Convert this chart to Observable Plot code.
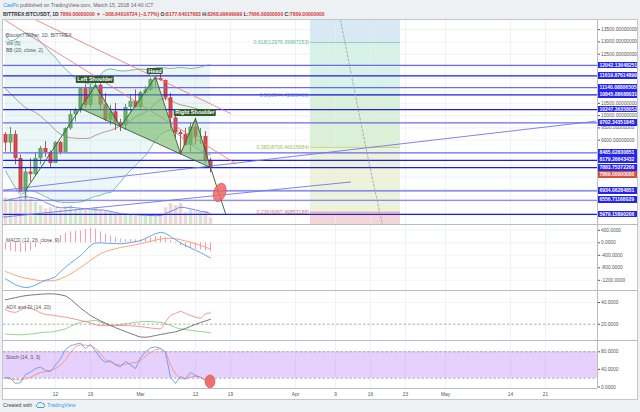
<!DOCTYPE html>
<html><head><meta charset="utf-8">
<script src="https://cdn.jsdelivr.net/npm/d3@7"></script>
<script src="https://cdn.jsdelivr.net/npm/@observablehq/plot@0.6"></script>
<style>
html,body{margin:0;padding:0}
body{width:640px;height:412px;position:relative;overflow:hidden;background:#eef1f4;font-family:"Liberation Sans",Arial,sans-serif}
.a{position:absolute;white-space:nowrap}
.plotsvg{position:absolute;left:0}
.lg{font-size:5px;color:#555;line-height:6px}
</style></head><body>
<script>
// ---------------- DATA ----------------
const dates = ["2018-02-02","2018-02-03","2018-02-04","2018-02-05","2018-02-06","2018-02-07","2018-02-08","2018-02-09","2018-02-10","2018-02-11","2018-02-12","2018-02-13","2018-02-14","2018-02-15","2018-02-16","2018-02-17","2018-02-18","2018-02-19","2018-02-20","2018-02-21","2018-02-22","2018-02-23","2018-02-24","2018-02-25","2018-02-26","2018-02-27","2018-02-28","2018-03-01","2018-03-02","2018-03-03","2018-03-04","2018-03-05","2018-03-06","2018-03-07","2018-03-08","2018-03-09","2018-03-10","2018-03-11","2018-03-12","2018-03-13","2018-03-14","2018-03-15"];
const open  = [9230,8890,9230,8250,6900,7700,7600,8250,8660,8500,8050,8900,8500,9470,10040,10200,11090,10420,11150,11230,10440,9830,10150,9700,9600,10330,10580,10330,10930,11030,11460,11500,11430,10720,9900,9300,9230,8790,9530,9130,9150,8178];
const high  = [9310,9520,9380,8400,7850,8250,8500,8750,8950,8560,8950,8950,9500,10200,10300,11100,11250,11250,11600,11300,10900,10420,10500,9850,10450,10850,11050,11000,11180,11520,11530,11700,11450,10900,10100,9400,9480,9700,9900,9480,9350,8269];
const low   = [8520,8500,8000,6850,6600,7300,7560,8000,8300,7850,8050,8400,8500,9400,9750,10100,10300,10300,11100,10250,9750,9600,9400,9350,9400,10150,10300,10250,10800,11000,11100,11400,10600,9450,9100,8400,8750,8500,8800,8830,8050,7666];
const close = [8890,9230,8250,6900,7700,7600,8250,8660,8500,8050,8900,8500,9470,10040,10200,11090,10420,11150,11230,10440,9830,10150,9700,9600,10330,10580,10330,10930,11030,11460,11500,11430,10720,9900,9300,9230,8790,9530,9130,9150,8178,7869];
const volume   = [51,49,46,55,61,49,42,36,30,32,34,28,34,36,28,28,27,28,32,27,25,23,21,17,21,19,17,19,17,17,15,19,32,40,36,40,23,27,28,23,25,13];
const volumeMA = [45,48,50,52,53,52,50,47,42,38,34,32,32,33,32,31,30,29,28,28,27,25,23,21,20,19,19,18,18,17,17,17,21,25,29,33,32,30,28,25,24,21];
const volumeAxisMax = 390;
const bbUpper = [13300,13050,13100,13300,13350,13350,13250,13000,12800,12550,12370,12100,11900,11700,11520,11420,11320,11280,11420,11650,11850,11900,11860,11820,11820,11850,11870,11900,11880,11900,11940,11960,11940,11920,11940,11960,11940,11920,11940,11980,12040,12060];
const bbBasis = [11100,10900,10700,10500,10330,10230,10130,9980,9800,9620,9400,9250,9150,9100,9080,9070,9070,9100,9200,9280,9350,9400,9480,9580,9680,9800,9950,10050,10130,10300,10500,10650,10700,10620,10520,10440,10400,10350,10300,10230,10160,10100];
const bbLower = [7750,7400,7050,6800,6900,6950,6900,6800,6700,6600,6520,6480,6460,6460,6470,6480,6550,6640,6720,6760,6850,6870,7070,7300,7560,7770,7970,8180,8380,8680,8990,9230,9350,9400,9300,9160,9000,8850,8700,8580,8460,8400];
const macdLine   = [-1150,-1250,-1340,-1400,-1430,-1410,-1350,-1270,-1200,-1150,-1080,-920,-780,-650,-530,-410,-250,-90,-10,0,-10,-20,-25,-30,-20,10,40,70,140,220,290,330,300,200,100,0,-90,-160,-240,-310,-400,-480];
const macdSignal = [-920,-980,-1040,-1090,-1130,-1160,-1190,-1210,-1215,-1215,-1200,-1150,-1080,-1000,-900,-790,-680,-560,-450,-350,-280,-230,-190,-150,-120,-90,-60,-30,10,50,90,120,140,140,130,100,60,20,-30,-80,-140,-200];
const macdHist   = [-230,-270,-300,-310,-300,-250,-160,-60,15,65,120,230,300,350,370,380,430,470,440,350,270,210,165,120,100,100,100,100,130,170,200,210,160,60,-30,-100,-150,-180,-210,-230,-260,-280];
const adxLine = [42.5,43.5,44.5,45.5,46.3,46.8,47.2,47.6,47.9,48,47.8,47,46,43,39,35,31.5,28,25.5,23,21,18.8,16.8,15,13.2,11.5,9.8,8.2,8,8.6,9.6,10.5,11.3,12.2,13,14.5,16,18,19.8,21.5,23,24.5];
const diMinus = [33.5,31.5,31,33,35.7,34.5,33,30.5,29,28.5,28,27,26.5,25.5,24.5,23.4,22.5,21,19.5,18.8,18.5,18.8,19,18.8,18.8,18.5,18.2,17.8,17.2,16.5,16,15.7,22,28,30,31.7,30,28,26.5,25.5,29.5,30.5];
const diPlus  = [11,10.6,10.4,10.2,10.5,11,11.5,12.2,12.6,12.8,13.5,14.5,15.7,18,20,21.8,22.5,23,23.4,22,20,18.8,19,19.8,20.4,21,21.8,22.3,22.5,22.5,22,21.8,20.5,19,17,15.7,15,14.3,13.8,13.3,12.8,12];
const stochK = [22,20,8,10,28,34,42,45,38,35,50,64,85,94,97,100,87,97,82,65,56,60,50,46,58,50,42,66,80,89,91,88,78,22,8,24,18,33,26,22,14,7];
const stochD = [20,18,17,16,19,22,28,33,35,38,42,50,62,78,92,96,95,94,88,75,62,56,52,50,52,54,56,60,70,78,85,87,80,50,30,18,19,22,25,22,18,15];

const priceTicks = [6000,6500,7000,7500,8000,8500,9000,9500,10000,10500,11000,11500,12000,12500,13000,13500];
const priceAxisTicks = [9000,9500,10000,10500,12500,13000,13500];
const macdTicks = [400,0,-400,-800,-1200];
const adxTicks = [40,20];
const stochTicks = [80,40,0];
const timeTicks = ["2018-02-12","2018-02-19","2018-03-01","2018-03-12","2018-03-19","2018-04-01","2018-04-09","2018-04-16","2018-04-23","2018-05-01","2018-05-14","2018-05-21"];
const timeTickLabels = ["12","19","Mar","12","19","Apr","9","16","23","May","14","21"];

const hLevels = [12042.13648251,11619.87614899,11140.08806505,10845.88688031,10247.36358052,9702.34351845,8485.02830851,8179.26643432,7883.75372206,6934.06284851,6556.71168029,5979.15890206];
const hLabels = ["12042.13648251","11619.87614899","11140.08806505","10845.88688031","10247.36358052","9702.34351845","8485.02830851","8179.26643432","7883.75372206","6934.06284851","6556.71168029","5979.15890206"];
const hDark   = [false,true,false,true,true,false,false,true,true,false,false,true];
const lastPrice = 7869, lastPriceLabel = "7869.00000000";

const fibLevelText = ["0.618","0.5","0.382","0.236"];
const fibPrices = [12979.39997253,10844.43306469,8709.46615684,6067.49853188];
const fibPriceText = ["12979.39997253","10844.43306469","8709.46615684","6067.49853188"];
const fibTextColors = ["#5cbf98","#7a9cc8","#9cc25a","#e07272"];
const fibLineColors = ["#86c9b2","#9bb6dc","#b9d37e","#ea9494"];
const fibZoneColors = ["#d7e9f4","#d6f2e9","#dbf1d7","#ecf3d9","#f4d6d8"];
const fibStart = "2018-04-04", fibEnd = "2018-04-22";

const redTrendA = [["2018-02-08",13900],["2018-03-19",10087]];
const redTrendB = [["2018-02-02",13872],["2018-03-20",8052]];
const blueTrend1 = [["2018-02-01",6953],["2018-05-31",9773]];
const blueTrend2 = [["2018-02-01",5858],["2018-04-12",7299]];
const dashedCycle = [["2018-04-10T00:00Z",13900],["2018-04-12T15:50Z",11157],["2018-04-15T08:10Z",8446],["2018-04-18T08:10Z",5598]];

const hsPoints = [["2018-02-06",6953],["2018-02-20",11226],["2018-02-25",9550],["2018-03-04",11572],["2018-03-09",8445],["2018-03-12",9883],["2018-03-15",7889],["2018-03-18",6017]];
const hsNeck = [["2018-02-17",10290],["2018-03-15",7889]];
const hsLabels = [["Left Shoulder",1],["Head",3],["Right Shoulder",5]];
const alertMain = ["2018-03-16T22:30Z",6851];
const alertStoch = ["2018-03-15",11.5];

// ---------------- BUILD ----------------
const parse = s => new Date(s.includes("T") ? s : s + "T00:00:00Z");
const bars = dates.map((s,i)=>({date:parse(s),o:open[i],h:high[i],l:low[i],c:close[i],up:close[i]>=open[i],
  v:volume[i],vma:volumeMA[i],bbU:bbUpper[i],bbM:bbBasis[i],bbL:bbLower[i],
  macd:macdLine[i],sig:macdSignal[i],hist:macdHist[i],adx:adxLine[i],dip:diPlus[i],dim:diMinus[i],k:stochK[i],d:stochD[i]}));
const tickDates = timeTicks.map(parse);
const tickLabelMap = new Map(timeTicks.map((s,i)=>[+parse(s), timeTickLabels[i]]));
const xDomain = [parse("2018-02-01T14:24:00Z"), parse("2018-05-31T09:36:00Z")];
const mainDomain = [5569, 13872];
const FONT = "'Liberation Sans', Arial, sans-serif";
const W = 640, ML = 3, MR = 43;
const baseStyle = {background:"transparent", fontFamily:FONT, fontSize:"4.8px", color:"#555", overflow:"visible"};
const xOpt = {type:"utc", domain:xDomain, axis:null};
const pts = arr => arr.map(([s,p])=>({date:parse(s), price:p}));
const gridX = () => Plot.ruleX(tickDates, {stroke:"#eaedf0", strokeWidth:0.7});

function place(svg, top){ svg.classList.add("plotsvg"); svg.style.top = top + "px"; document.body.appendChild(svg); return svg; }
function div(css, html){ const e=document.createElement("div"); e.className="a"; e.style.cssText=css; if(html!==undefined) e.innerHTML=html; document.body.appendChild(e); return e; }

// frame
div("left:2px;top:19px;width:636px;height:381px;background:#fff;border:1px solid #c3c7cb;box-sizing:border-box");

// volume layer
place(Plot.plot({width:W,height:204,marginTop:0,marginBottom:0,marginLeft:ML,marginRight:MR,style:baseStyle,
  x:xOpt, y:{domain:[0,volumeAxisMax],axis:null}, color:{type:"identity"},
  marks:[
    Plot.ruleX(bars,{x:"date",y1:0,y2:"v",stroke:d=>d.up?"#d3e6ce":"#ead9d7",strokeWidth:3.6}),
    Plot.line(bars,{x:"date",y:"vma",stroke:"#5668ea",strokeWidth:0.8,curve:"monotone-x"})
  ]}), 20);

// main price panel
const fibX1 = parse(fibStart), fibX2 = parse(fibEnd);
const fibZones = fibZoneColors.map((c,i)=>({y1: i===0?mainDomain[1]:fibPrices[i-1], y2: i<fibPrices.length?fibPrices[i]:mainDomain[0], fill:c}));
const fibRows = fibPrices.map((p,i)=>({price:p,label:`${fibLevelText[i]}(${fibPriceText[i]})`,color:fibTextColors[i],line:fibLineColors[i]}));
const hLines = hLevels.map((v,i)=>({value:v,label:hLabels[i],dark:hDark[i]}));
const neckT = hsNeck.map(([s,p])=>[+parse(s),p]);
const neckAt = t => neckT[0][1] + (t-neckT[0][0])/(neckT[1][0]-neckT[0][0])*(neckT[1][1]-neckT[0][1]);
const tri = (a,b,c,id) => [
  {id,date:parse(a[0]),y1:a[1],y2:a[1]},
  {id,date:parse(b[0]),y1:neckAt(+parse(b[0])),y2:b[1]},
  {id,date:parse(c[0]),y1:c[1],y2:c[1]}];
const hsFill = [...tri(hsNeck[0],hsPoints[1],hsPoints[2],"L"),...tri(hsPoints[2],hsPoints[3],hsPoints[4],"H"),...tri(hsPoints[4],hsPoints[5],hsNeck[1],"R")];
const upEdge="#3f7d43", upFill="#6db56d", dnEdge="#a52f2f", dnFill="#e6484b";

const main = place(Plot.plot({width:W,height:204,marginTop:0,marginBottom:0,marginLeft:ML,marginRight:MR,style:baseStyle,
  x:xOpt,
  y:{domain:mainDomain,axis:"right",ticks:priceAxisTicks,tickFormat:d=>d.toFixed(8),tickSize:2,tickPadding:1.5,label:null},
  color:{type:"identity"},
  marks:[
    Plot.rect(fibZones,{x1:()=>fibX1,x2:()=>fibX2,y1:"y1",y2:"y2",fill:"fill"}),
    Plot.ruleY(priceTicks,{stroke:"#eaedf0",strokeWidth:0.7}),
    gridX(),
    Plot.areaY(bars,{x:"date",y1:"bbL",y2:"bbU",fill:"#a3d7da",fillOpacity:0.22,curve:"monotone-x"}),
    Plot.line(bars,{x:"date",y:"bbU",stroke:"#55aaa3",strokeWidth:0.8,curve:"monotone-x"}),
    Plot.line(bars,{x:"date",y:"bbL",stroke:"#55aaa3",strokeWidth:0.8,curve:"monotone-x"}),
    Plot.line(bars,{x:"date",y:"bbM",stroke:"#b57a7a",strokeWidth:0.8,curve:"monotone-x"}),
    Plot.ruleY(fibRows,{y:"price",x1:()=>fibX1,x2:()=>fibX2,stroke:"line",strokeWidth:0.9}),
    Plot.text(fibRows,{x:()=>fibX1,y:"price",text:"label",textAnchor:"end",dx:-1.5,fill:"color",fontSize:5.2}),
    Plot.ruleX(bars,{x:"date",y1:"l",y2:"h",stroke:d=>d.up?upEdge:dnEdge,strokeWidth:0.8}),
    Plot.ruleX(bars,{x:"date",y1:"o",y2:"c",stroke:d=>d.up?upEdge:dnEdge,strokeWidth:3.8}),
    Plot.ruleX(bars,{x:"date",y1:"o",y2:"c",stroke:d=>d.up?upFill:dnFill,strokeWidth:2.4}),
    Plot.ruleY(hLines.filter(d=>!d.dark),{y:"value",stroke:"#6a6af0",strokeWidth:1.2}),
    Plot.ruleY(hLines.filter(d=>d.dark),{y:"value",stroke:"#1d1de6",strokeWidth:1.3}),
    Plot.line(pts(redTrendA),{x:"date",y:"price",stroke:"#f07070",strokeWidth:0.8,clip:true}),
    Plot.line(pts(redTrendB),{x:"date",y:"price",stroke:"#f07070",strokeWidth:0.8,clip:true}),
    Plot.line(pts(blueTrend1),{x:"date",y:"price",stroke:"#7474ec",strokeWidth:0.9,clip:true}),
    Plot.line(pts(blueTrend2),{x:"date",y:"price",stroke:"#7474ec",strokeWidth:0.9,clip:true}),
    Plot.line(pts(dashedCycle),{x:"date",y:"price",stroke:"#9a9a9a",strokeWidth:0.8,strokeDasharray:"2,2",curve:"catmull-rom",clip:true}),
    Plot.areaY(hsFill,{x:"date",y1:"y1",y2:"y2",z:"id",fill:"#72b862",fillOpacity:0.6}),
    Plot.line(pts(hsNeck),{x:"date",y:"price",stroke:"#2f5a2a",strokeWidth:0.9}),
    Plot.line(pts(hsPoints),{x:"date",y:"price",stroke:"#2f5a2a",strokeWidth:0.9})
  ]}), 20);

const xs = main.scale("x"), ys = main.scale("y");
d3.select(main).append("ellipse")
  .attr("cx", xs.apply(parse(alertMain[0]))).attr("cy", ys.apply(alertMain[1]))
  .attr("rx",6).attr("ry",9.5)
  .attr("transform",`rotate(20,${xs.apply(parse(alertMain[0]))},${ys.apply(alertMain[1])})`)
  .attr("fill","#f06666").attr("fill-opacity",0.85).attr("stroke","#e04848").attr("stroke-width",0.6);

// MACD
place(Plot.plot({width:W,height:66,marginTop:0,marginBottom:0,marginLeft:ML,marginRight:MR,style:baseStyle,
  x:xOpt, y:{domain:[-1526,586],axis:"right",ticks:macdTicks,tickFormat:d=>d.toFixed(4),tickSize:2,tickPadding:1.5,label:null},
  marks:[
    Plot.ruleY(macdTicks,{stroke:"#eceff1",strokeWidth:0.7}), gridX(),
    Plot.ruleX(bars,{x:"date",y1:0,y2:"hist",stroke:"#f3a0b3",strokeWidth:1.1}),
    Plot.line(bars,{x:"date",y:"sig",stroke:"#ff9a66",strokeWidth:0.9,curve:"monotone-x"}),
    Plot.line(bars,{x:"date",y:"macd",stroke:"#4d9cf6",strokeWidth:0.9,curve:"monotone-x"})
  ]}), 224);

// ADX
place(Plot.plot({width:W,height:50,marginTop:0,marginBottom:0,marginLeft:ML,marginRight:MR,style:baseStyle,
  x:xOpt, y:{domain:[4.98,51.06],axis:"right",ticks:adxTicks,tickFormat:d=>d.toFixed(4),tickSize:2,tickPadding:1.5,label:null},
  marks:[
    Plot.ruleY([40],{stroke:"#eceff1",strokeWidth:0.7}), gridX(),
    Plot.ruleY([20],{stroke:"#8a8a8a",strokeWidth:0.7,strokeDasharray:"2.5,2"}),
    Plot.line(bars,{x:"date",y:"dip",stroke:"#7cc47c",strokeWidth:0.8,curve:"monotone-x"}),
    Plot.line(bars,{x:"date",y:"dim",stroke:"#f07b7b",strokeWidth:0.8,curve:"monotone-x"}),
    Plot.line(bars,{x:"date",y:"adx",stroke:"#555",strokeWidth:0.8,curve:"monotone-x"})
  ]}), 290);

// Stoch
const stoch = place(Plot.plot({width:W,height:60,marginTop:0,marginBottom:12,marginLeft:ML,marginRight:MR,style:baseStyle,
  x:{type:"utc",domain:xDomain,ticks:tickDates,tickFormat:d=>tickLabelMap.get(+d),tickSize:0,tickPadding:4.5,label:null},
  y:{domain:[-3.4,105.7],axis:"right",ticks:stochTicks,tickFormat:d=>d.toFixed(4),tickSize:2,tickPadding:1.5,label:null},
  marks:[
    gridX(),
    Plot.rect([{a:20,b:80}],{x1:()=>xDomain[0],x2:()=>xDomain[1],y1:"a",y2:"b",fill:"#b26cf5",fillOpacity:0.32}),
    Plot.ruleY([20,80],{stroke:"#8e85a0",strokeWidth:0.7,strokeDasharray:"2.5,2"}),
    Plot.line(bars,{x:"date",y:"d",stroke:"#ff8a66",strokeWidth:0.8}),
    Plot.line(bars,{x:"date",y:"k",stroke:"#5a8ff5",strokeWidth:0.8})
  ]}), 340);
const sx = stoch.scale("x"), sy = stoch.scale("y");
d3.select(stoch).append("ellipse")
  .attr("cx", sx.apply(parse(alertStoch[0]))).attr("cy", sy.apply(alertStoch[1]))
  .attr("rx",5).attr("ry",6.5).attr("fill","#f06060").attr("fill-opacity",0.9).attr("stroke","#d84040").attr("stroke-width",0.5);

// separators
[224,290,340].forEach(y=>div(`left:2px;top:${y}px;width:635px;height:1px;background:#b9bdc1`));
div("left:2px;top:388px;width:595px;height:1px;background:#b9bdc1");
div("left:597px;top:19px;width:1px;height:369px;background:#b9bdc1");

// right price labels
const items = hLines.map(d=>({text:d.label,y:20+ys.apply(d.value),bg:"#2525ee"}));
items.push({text:lastPriceLabel,y:20+ys.apply(lastPrice)+0.01,bg:"#d4503f"});
items.sort((a,b)=>a.y-b.y);
for(let i=1;i<items.length;i++) if(items[i].y-items[i-1].y<7.3) items[i].y=items[i-1].y+7.3;
items.forEach(it=>div(`left:598px;top:${it.y-3.4}px;width:39px;height:6.8px;background:${it.bg};color:#fff;font-size:5px;font-weight:bold;line-height:6.8px;padding-left:1.5px;box-sizing:border-box;overflow:hidden`, it.text));

// pattern labels
hsLabels.forEach(([t,i])=>{
  const [s,p]=hsPoints[i];
  div(`left:${xs.apply(parse(s))}px;top:${20+ys.apply(p)-9}px;transform:translateX(-50%);background:#2e5a2e;color:#fff;font-size:5.5px;font-weight:bold;line-height:6.5px;padding:0 1.5px;border-radius:1px`, t);
});

// legends
div("left:6px;top:23px","<span class='lg'>Bitcoin / Tether, 1D, BITTREX</span>");
div("left:6px;top:30.5px","<span class='lg'>Vol (5)</span>");
div("left:6px;top:38px","<span class='lg'>BB (20, close, 2)</span>");
div("left:6px;top:228px","<span class='lg'>MACD (12, 26, close, 9)</span>");
div("left:6px;top:294.5px","<span class='lg'>ADX and DI (14, 20)</span>");
div("left:6px;top:344.5px","<span class='lg'>Stoch (14, 3, 3)</span>");

// header
div("left:3px;top:2px;font-size:5.2px;color:#666;line-height:6px","<span style='color:#2196f3'>CasPo</span> published on TradingView.com, March 15, 2018 14:40 ICT");
const R = s=>`<span style='color:#d83a3a'>${s}</span>`;
div("left:3px;top:10.5px;font-size:5px;font-weight:bold;color:#333;line-height:6px",
  `BITTREX:BTCUSDT, 1D ${R("7869.00000000 ▼ −308.64016724 (−3.77%)")} O:${R("8177.64017683")} H:${R("8268.99699999")} L:${R("7666.00000000")} C:${R("7869.00000000")}`);

// footer
div("left:3px;top:402px;font-size:5.2px;color:#444;line-height:6px",
  "Created with <svg width='10' height='6' viewBox='0 0 20 12' style='vertical-align:-1px;margin:0 1px'><path d='M5 11a4 4 0 0 1 0-7a6 6 0 0 1 10-1a4 4 0 0 1 1 8z' fill='none' stroke='#3c9ae8' stroke-width='2'/></svg> <span style='color:#3c9ae8'>TradingView</span>");
</script>
</body></html>
